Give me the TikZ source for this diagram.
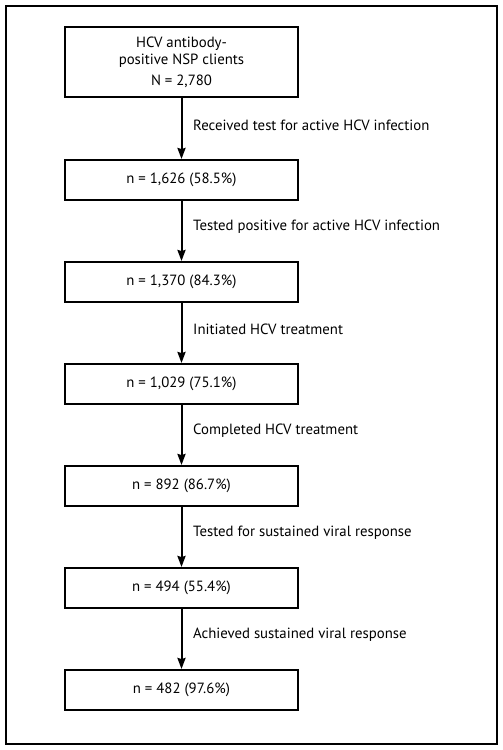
\documentclass[tikz,border=0pt]{standalone}
\usepackage{fontspec}
\setmainfont{PT Sans}
\usetikzlibrary{arrows.meta}
\begin{document}
\begin{tikzpicture}[x=1pt,y=-1pt,
  box/.style={draw,line width=2pt,minimum width=233pt,minimum height=40pt,inner sep=0pt,font=\fontsize{14.8}{17}\selectfont,align=center},
  lbl/.style={anchor=west,inner sep=0pt,font=\fontsize{14.8}{17}\selectfont},
  flow/.style={line width=2pt,-{Stealth[length=11pt,width=8pt,inset=1pt]}}]
\useasboundingbox (0,0) rectangle (503,750);
\draw[line width=1.8pt] (6,6) rectangle (497,744);
\node[box,minimum height=70pt] (b1) at (181.5,62) {HCV antibody-\\positive NSP clients\\[4pt]N = 2,780};
\node[box] (b2) at (181.5,180) {n = 1,626 (58.5\%)};
\node[box] (b3) at (181.5,282) {n = 1,370 (84.3\%)};
\node[box] (b4) at (181.5,384) {n = 1,029 (75.1\%)};
\node[box] (b5) at (181.5,486) {n = 892 (86.7\%)};
\node[box] (b6) at (181.5,588) {n = 494 (55.4\%)};
\node[box] (b7) at (181.5,690) {n = 482 (97.6\%)};
\draw[flow] (b1) -- (b2);
\draw[flow] (b2) -- (b3);
\draw[flow] (b3) -- (b4);
\draw[flow] (b4) -- (b5);
\draw[flow] (b5) -- (b6);
\draw[flow] (b6) -- (b7);
\node[lbl] (l1) at (193,125) {Received test for active HCV infection};
\node[lbl] (l2) at (193,227) {Tested positive for active HCV infection};
\node[lbl] (l3) at (193,329) {Initiated HCV treatment};
\node[lbl] (l4) at (193,431) {Completed HCV treatment};
\node[lbl] (l5) at (193,533) {Tested for sustained viral response};
\node[lbl] (l6) at (193,635) {Achieved sustained viral response};
\end{tikzpicture}
\end{document}
